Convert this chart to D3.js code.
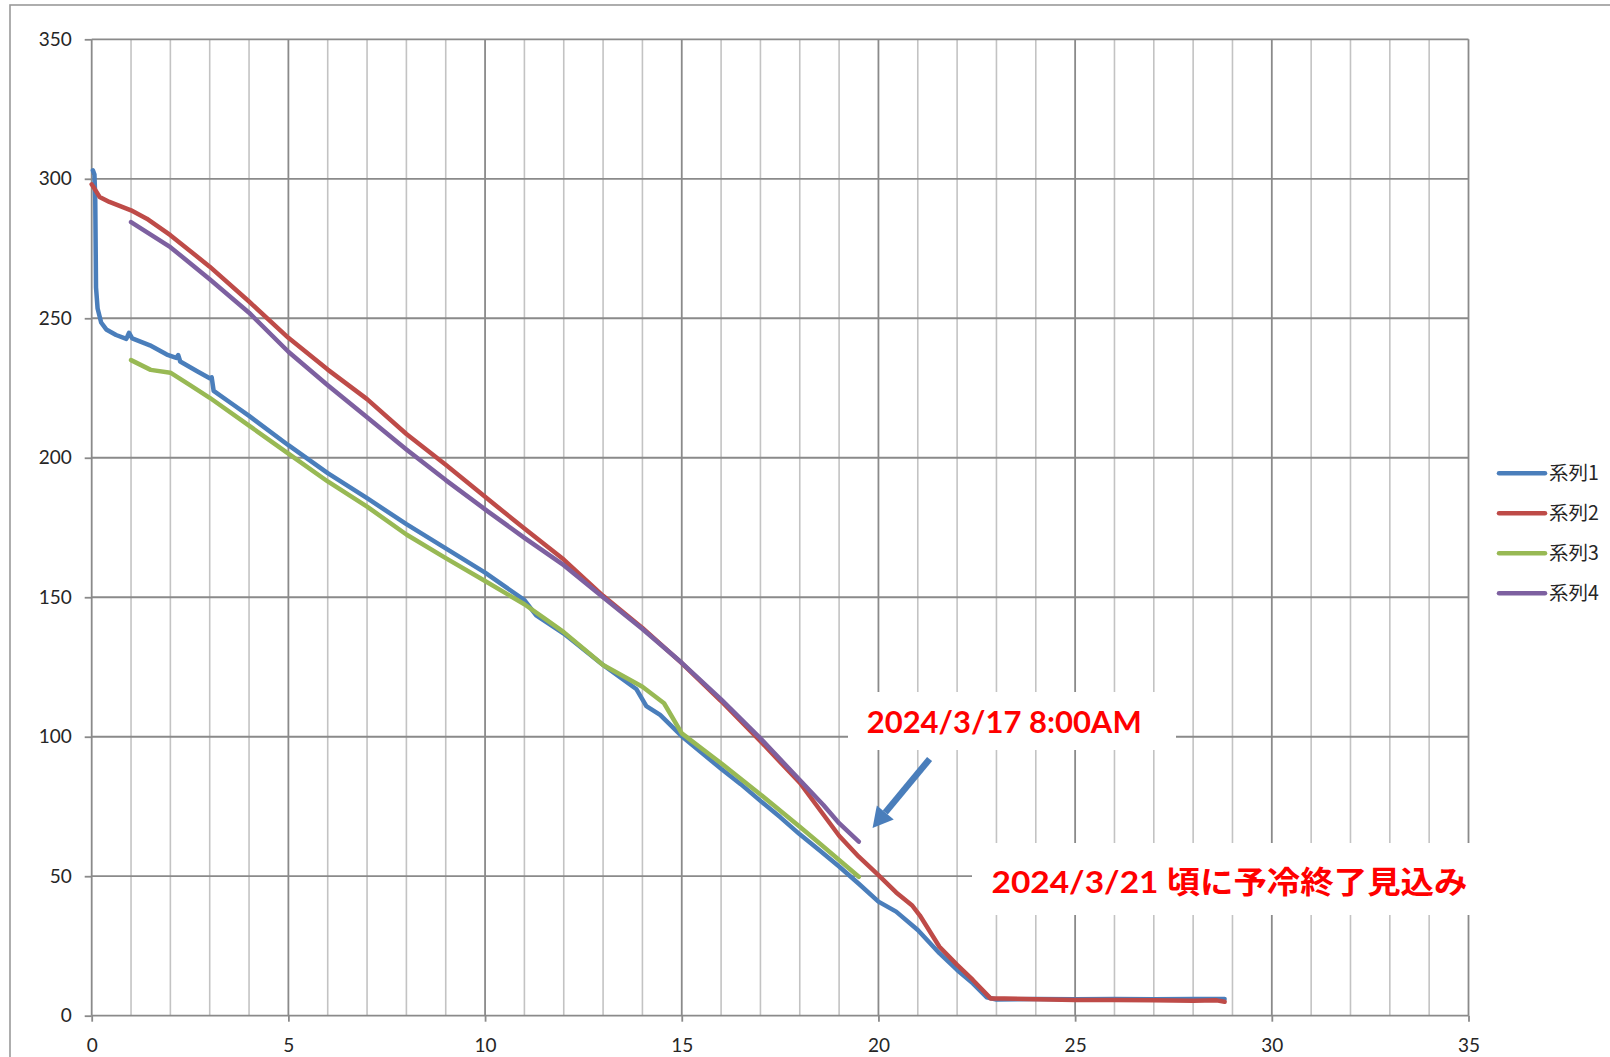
<!DOCTYPE html>
<html>
<head>
<meta charset="utf-8">
<script src="https://cdn.jsdelivr.net/npm/d3@7"></script>
<style>
  html, body { margin: 0; padding: 0; background: #fff; }
  svg { display: block; }
</style>
</head>
<body>
<svg id="chart" width="1610" height="1057"></svg>
<script>
// ---- data ----
const xTicks = [0, 5, 10, 15, 20, 25, 30, 35];
const yTicks = [0, 50, 100, 150, 200, 250, 300, 350];
const seriesNames = ["系列1", "系列2", "系列3", "系列4"];
const seriesColors = ["#4A7EBB", "#BE4B48", "#98B954", "#7D60A0"];

const series1 = [[0.03,303],[0.07,301.5],[0.09,293],[0.11,261],[0.15,253.5],[0.24,248.5],[0.37,246],[0.62,244],[0.88,242.6],[0.95,244.8],[1.03,242.8],[1.48,240.3],[1.91,237],[2.15,235.8],[2.2,236.8],[2.25,234.5],[2.68,231],[3.0,228.5],[3.05,228.8],[3.1,224],[3.6,219],[4.0,215],[5.0,204.5],[6.0,194.5],[7.0,185.5],[8.0,176.2],[9.0,167.5],[10.0,158.8],[11.0,149],[11.3,143.5],[12.0,137],[13.0,125.7],[13.85,117],[14.1,111],[14.45,107.8],[15.0,100.2],[16.0,88.5],[16.5,83],[17.0,77],[17.5,71.2],[18.0,65],[18.5,59.3],[19.0,53.5],[19.5,47.3],[20.0,40.9],[20.45,37.3],[21.0,30.7],[21.55,22.4],[22.0,16.4],[22.4,11.6],[22.75,6.6],[23.0,5.8],[24,6],[25,5.9],[26,6],[27,5.9],[28,6],[28.8,6]];
const series2 = [[0,298],[0.07,296.5],[0.2,293.5],[0.45,291.7],[1.0,288.7],[1.4,285.7],[2.0,279.8],[3.0,268.5],[4.0,256],[5.0,243],[6.0,231.6],[7.0,221],[8.0,208.5],[9.0,197.5],[10.0,186],[11.0,174.6],[12.0,163.5],[13.0,150.5],[14.0,139],[15.0,126.4],[16.0,112.8],[17.0,98.4],[18.0,83.5],[19.0,64.5],[19.5,57],[20.0,50.4],[20.45,44.2],[20.85,39.6],[21.05,36],[21.55,24.7],[22.0,18.2],[22.4,12.8],[22.85,6.2],[23.2,6.2],[24,5.9],[25,5.6],[26,5.6],[27,5.5],[28,5.4],[28.6,5.5],[28.8,5]];
const series3 = [[1.0,235],[1.5,231.5],[2.0,230.5],[2.5,226],[3.0,221.5],[4.0,211.5],[5.0,201.5],[6.0,191.5],[7.0,182.5],[8.0,172.5],[9.0,164],[10.0,155.8],[11.0,147.5],[11.5,142.5],[12.0,137.5],[13.0,125.7],[14.0,117.9],[14.55,112],[15.0,101.2],[16.0,90.5],[17.0,79.3],[18.0,67.7],[18.5,61.8],[19.0,55.8],[19.5,49.8]];
const series4 = [[1.0,284.5],[2.0,275.5],[3.0,264],[4.0,252],[5.0,238],[6.0,226],[7.0,214.5],[8.0,203],[9.0,192],[10.0,181.5],[11.0,171.3],[12.0,161.5],[13.0,150],[14.0,138.6],[15.0,126.5],[16.0,113.4],[17.0,99.4],[18.0,84.5],[18.6,75.5],[19.0,69],[19.5,62.4]];

const annotation1 = "2024/3/17 8:00AM";
const annotation2 = "2024/3/21 頃に予冷終了見込み";
const arrowFrom = [21.3, 92];   // data coords of arrow tail
const arrowTo = [19.85, 67.3];  // data coords of arrow tip

// ---- layout ----
const svg = d3.select("#chart");
const x = d3.scaleLinear().domain([0, 35]).range([91.7, 1468.5]);
const y = d3.scaleLinear().domain([0, 350]).range([1015.7, 39.3]);

const latin = "Lato, 'Liberation Sans', sans-serif";

// outer chart border
svg.append("rect").attr("x", 10).attr("y", 5).attr("width", 1640).attr("height", 1100)
  .attr("fill", "#fff").attr("stroke", "#9a9a9a").attr("stroke-width", 1.6);

// minor vertical gridlines
const minorX = d3.range(0, 36).filter(v => v % 5 !== 0);
svg.append("g").selectAll("line").data(minorX).join("line")
  .attr("x1", d => x(d)).attr("x2", d => x(d))
  .attr("y1", y(350)).attr("y2", y(0))
  .attr("stroke", "#c3c3c3").attr("stroke-width", 1.6);

// major gridlines
svg.append("g").selectAll("line").data(xTicks).join("line")
  .attr("x1", d => x(d)).attr("x2", d => x(d))
  .attr("y1", y(350)).attr("y2", y(0))
  .attr("stroke", "#8a8a8a").attr("stroke-width", 1.8);
svg.append("g").selectAll("line").data(yTicks).join("line")
  .attr("x1", x(0)).attr("x2", x(35))
  .attr("y1", d => y(d)).attr("y2", d => y(d))
  .attr("stroke", "#8a8a8a").attr("stroke-width", 1.8);

// axes
const yAxis = d3.axisLeft(y).tickValues(yTicks).tickSize(7).tickPadding(13);
const gy = svg.append("g").attr("transform", `translate(${x(0)},0)`).call(yAxis);
const xAxis = d3.axisBottom(x).tickValues(xTicks).tickSize(6).tickPadding(17);
const gx = svg.append("g").attr("transform", `translate(0,${y(0)})`).call(xAxis);
[gy, gx].forEach(g => {
  g.select(".domain").remove();
  g.selectAll(".tick line").attr("stroke", "#8a8a8a").attr("stroke-width", 1.8);
  g.selectAll(".tick text").attr("font-family", latin).attr("font-size", 19).attr("fill", "#262626");
});

// series lines
const line = d3.line().x(d => x(d[0])).y(d => y(d[1]));
[series1, series2, series3, series4].forEach((s, i) => {
  svg.append("path").datum(s).attr("d", line)
    .attr("fill", "none").attr("stroke", seriesColors[i]).attr("stroke-width", 4.5)
    .attr("stroke-linejoin", "round").attr("stroke-linecap", "round");
});

// annotation 1 (white box + red text)
svg.append("rect").attr("x", 848).attr("y", 692).attr("width", 328).attr("height", 58).attr("fill", "#fff");
svg.append("text").attr("x", 866.7).attr("y", 733.3)
  .attr("font-family", "Lato, 'Noto Sans CJK JP', sans-serif").attr("font-weight", "bold")
  .attr("font-size", 30).attr("fill", "#FF0000")
  .attr("textLength", 275).attr("lengthAdjust", "spacingAndGlyphs")
  .text(annotation1);

// arrow
const ax1 = x(arrowFrom[0]), ay1 = y(arrowFrom[1]), ax2 = x(arrowTo[0]), ay2 = y(arrowTo[1]);
const ang = Math.atan2(ay2 - ay1, ax2 - ax1);
const headLen = 20, headW = 11;
const bx = ax2 - headLen * Math.cos(ang), by = ay2 - headLen * Math.sin(ang);
svg.append("line").attr("x1", ax1).attr("y1", ay1).attr("x2", bx).attr("y2", by)
  .attr("stroke", "#4A7EBB").attr("stroke-width", 6.5);
svg.append("path")
  .attr("d", `M${ax2},${ay2} L${bx + headW * Math.sin(ang)},${by - headW * Math.cos(ang)} L${bx - headW * Math.sin(ang)},${by + headW * Math.cos(ang)} Z`)
  .attr("fill", "#4A7EBB");

// annotation 2
svg.append("rect").attr("x", 972).attr("y", 843).attr("width", 520).attr("height", 72).attr("fill", "#fff");
svg.append("text").attr("x", 991.5).attr("y", 893.3)
  .attr("font-family", "Lato, 'Noto Sans CJK JP', sans-serif").attr("font-weight", "bold")
  .attr("font-size", 31).attr("fill", "#FF0000")
  .attr("textLength", 476).attr("lengthAdjust", "spacingAndGlyphs")
  .text(annotation2);

// legend
const legendY = [473.3, 513.3, 553.3, 593.3];
const lg = svg.append("g");
seriesNames.forEach((n, i) => {
  lg.append("line").attr("x1", 1499).attr("x2", 1545).attr("y1", legendY[i]).attr("y2", legendY[i])
    .attr("stroke", seriesColors[i]).attr("stroke-width", 4.5).attr("stroke-linecap", "round");
  lg.append("text").attr("x", 1549).attr("y", legendY[i]).attr("dy", "0.36em")
    .attr("font-family", "'Noto Sans CJK JP', sans-serif").attr("font-size", 19.5).attr("fill", "#262626")
    .text(n);
});
</script>
</body>
</html>
